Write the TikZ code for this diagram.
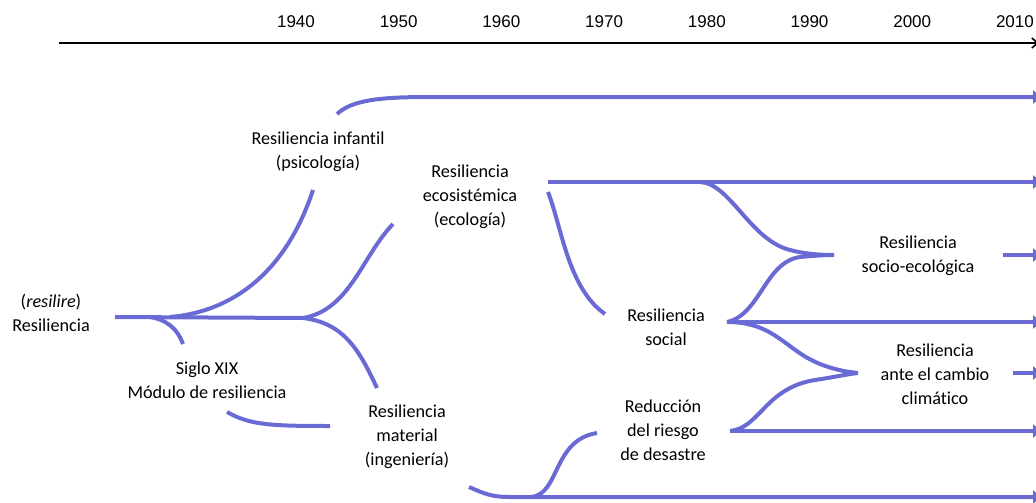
\documentclass[tikz,border=0pt]{standalone}
\usepackage{fontspec}
\setmainfont{Carlito}[Ligatures=NoCommon]
\newfontfamily\arialf{Liberation Sans}
\usetikzlibrary{arrows.meta}
\definecolor{bl}{RGB}{106,106,212}
\begin{document}
\begin{tikzpicture}[x=1pt,y=-1pt,
  lbl/.style={align=center,font=\fontsize{18.2}{24}\selectfont,inner sep=0pt},
  yr/.style={font=\arialf\fontsize{17}{20}\selectfont,inner sep=0pt},
  br/.style={draw=bl,line width=4pt},
  arr/.style={br,-{Triangle[length=9pt,width=13pt]}}]
\useasboundingbox (0,0) rectangle (1036,503);
% timeline
\foreach \y [count=\i from 0] in {1940,1950,1960,1970,1980,1990,2000,2010}
  \node[yr] (y\y) at ({296+102.7*\i},22) {\y};
\coordinate (ax0) at (59,43);
\coordinate (ax1) at (1039,43);
\draw[line width=1.6pt,-{Straight Barb[length=6pt,width=10pt]}] (ax0) -- (ax1);
% labels
\node[lbl] (res) at (51,313) {(\textit{resilire})\\Resiliencia};
\node[lbl] (inf) at (318,152) {Resiliencia infantil\\(psicología)};
\node[lbl] (eco) at (470,197) {Resiliencia\\ecosistémica\\(ecología)};
\node[lbl] (sig) at (207,380) {Siglo XIX\\Módulo de resiliencia};
\node[lbl] (mat) at (407,437) {Resiliencia\\material\\(ingeniería)};
\node[lbl] (soc) at (666,327) {Resiliencia\\social};
\node[lbl] (red) at (663,430) {Reducción\\del riesgo\\de desastre};
\node[lbl] (sec) at (918,256) {Resiliencia\\socio-ecológica};
\node[lbl] (cam) at (935,374) {Resiliencia\\ante el cambio\\climático};
% coordinates of connector ends
\coordinate (t0) at (115,317);
\coordinate (j1) at (303,318);
\coordinate (infE) at (313,190);
\coordinate (sigE) at (183,344);
\coordinate (ecoE) at (393,224);
\coordinate (matE) at (377,388);
\coordinate (modS) at (227,412);
\coordinate (modE) at (330,426);
\coordinate (topS) at (337,114);
\coordinate (topE) at (1042,97);
\coordinate (ecoS) at (548,182);
\coordinate (ecoR) at (1042,182);
\coordinate (ecoD) at (548,192);
\coordinate (socW) at (605,314);
\coordinate (socS) at (727,322);
\coordinate (socR) at (1042,322);
\coordinate (secJ) at (834,255);
\coordinate (secS) at (1003,255);
\coordinate (secR) at (1042,255);
\coordinate (camJ) at (858,373);
\coordinate (camS) at (1013,373);
\coordinate (camR) at (1042,373);
\coordinate (matS) at (469,487);
\coordinate (botR) at (1042,497);
\coordinate (redW) at (597,433);
\coordinate (redS) at (730,431);
\coordinate (redR) at (1042,431);
% connectors
\draw[br] (t0) -- (j1);
\draw[br] (170,317) .. controls (230,312) and (285,275) .. (infE);
\draw[br] (150,317) .. controls (168,320) and (178,330) .. (sigE);
\draw[br] (j1) .. controls (350,310) and (362,256) .. (ecoE);
\draw[br] (j1) .. controls (345,323) and (360,352) .. (matE);
\draw[br] (modS) .. controls (250,425) and (270,426) .. (modE);
\draw[arr] (topS) .. controls (352,100) and (380,97) .. (430,97) -- (topE);
\draw[arr] (ecoS) -- (ecoR);
\draw[br] (700,182) .. controls (730,183) and (750,240) .. (790,250) .. controls (805,254) and (820,255) .. (secJ);
\draw[br] (ecoD) .. controls (562,228) and (568,288) .. (socW);
\draw[arr] (socS) -- (socR);
\draw[br] (socS) .. controls (760,315) and (765,262) .. (800,257) .. controls (812,256) and (822,255) .. (secJ);
\draw[br] (socS) .. controls (775,322) and (785,350) .. (820,364) .. controls (835,370) and (848,372) .. (camJ);
\draw[arr] (secS) -- (secR);
\draw[arr] (camS) -- (camR);
\draw[arr] (matS) .. controls (485,494) and (492,497) .. (510,497) -- (botR);
\draw[br] (530,497) .. controls (560,496) and (552,440) .. (redW);
\draw[arr] (redS) -- (redR);
\draw[br] (redS) .. controls (760,428) and (765,388) .. (815,380) .. controls (835,377) and (848,374) .. (camJ);
\end{tikzpicture}
\end{document}
